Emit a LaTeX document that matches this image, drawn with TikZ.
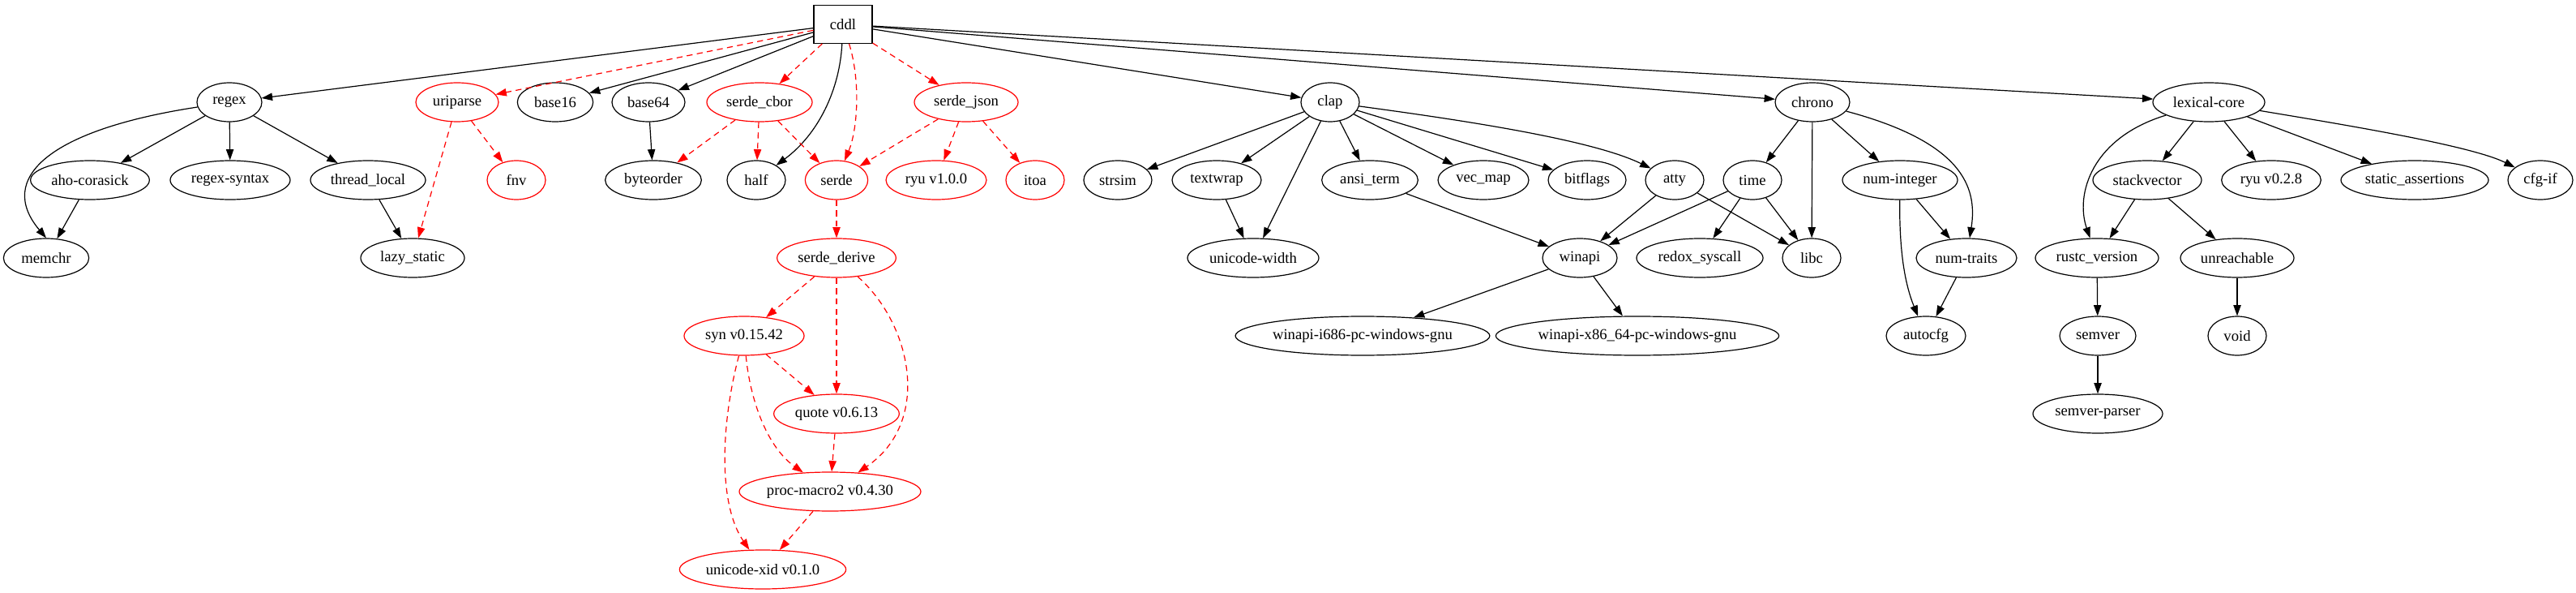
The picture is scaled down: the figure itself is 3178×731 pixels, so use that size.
\documentclass[tikz,border=0pt]{standalone}
\usepackage{fontspec}
\setmainfont{Liberation Serif}
\usepackage{tikz}
\usetikzlibrary{shapes,arrows.meta}
\tikzstyle{crate}    = [ellipse, draw, line width=0.9pt, minimum height=36pt, inner sep=0pt, font=\fontsize{14}{16}\selectfont]
\tikzstyle{optcrate} = [crate, draw=red]
\tikzstyle{root}     = [rectangle, draw, line width=0.9pt, minimum width=54pt, minimum height=35pt, font=\fontsize{14}{16}\selectfont]
\tikzstyle{arrow}    = [line width=0.9pt, -{Triangle[length=10pt,width=7pt]}]
\tikzstyle{optarrow} = [arrow, red, dash pattern=on 5.5pt off 4pt]

\begin{document}
\begin{tikzpicture}[x=0.75pt,y=-0.75pt]
		\useasboundingbox (0,0) rectangle (3178,731);

		% top
		\node[root] (cddl) at (1040,30) {cddl};

		% first row
		\node[crate, minimum width=60pt] (regex) at (283,126) {regex};
		\node[optcrate, minimum width=76.5pt] (uriparse) at (564,126) {uriparse};
		\node[crate, minimum width=70pt] (base16) at (685,126) {base16};
		\node[crate, minimum width=67.5pt] (base64) at (800,126) {base64};
		\node[optcrate, minimum width=97.5pt] (cbor) at (937,126) {serde\_cbor};
		\node[optcrate, minimum width=96pt] (json) at (1192,126) {serde\_json};
		\node[crate, minimum width=54pt] (clap) at (1641,126) {clap};
		\node[crate, minimum width=69pt] (chrono) at (2236,126) {chrono};
		\node[crate, minimum width=103.5pt] (lexical) at (2725,126) {lexical-core};

		% second row
		\node[crate, minimum width=110pt] (aho) at (111,222) {aho-corasick};
		\node[crate, minimum width=111pt] (rsyntax) at (284,222) {regex-syntax};
		\node[crate, minimum width=106.5pt] (tlocal) at (454,222) {thread\_local};
		\node[optcrate, minimum width=54pt] (fnv) at (637,222) {fnv};
		\node[crate, minimum width=89pt] (byteorder) at (806,222) {byteorder};
		\node[crate, minimum width=54pt] (half) at (933,222) {half};
		\node[optcrate, minimum width=58pt] (serde) at (1032,222) {serde};
		\node[optcrate, minimum width=93pt] (ryunew) at (1155,222) {ryu v1.0.0};
		\node[optcrate, minimum width=54pt] (itoa) at (1277,222) {itoa};
		\node[crate, minimum width=63pt] (strsim) at (1379,222) {strsim};
		\node[crate, minimum width=82.5pt] (textwrap) at (1501,222) {textwrap};
		\node[crate, minimum width=89pt] (ansi) at (1690,222) {ansi\_term};
		\node[crate, minimum width=84pt] (vecmap) at (1830,222) {vec\_map};
		\node[crate, minimum width=72pt] (bitflags) at (1958,222) {bitflags};
		\node[crate, minimum width=54pt] (atty) at (2066,222) {atty};
		\node[crate, minimum width=54pt] (time) at (2162,222) {time};
		\node[crate, minimum width=106.5pt] (numint) at (2344,222) {num-integer};
		\node[crate, minimum width=100.5pt] (stackvec) at (2649,222) {stackvector};
		\node[crate, minimum width=92pt] (ryuold) at (2802,222) {ryu v0.2.8};
		\node[crate, minimum width=136.5pt] (sassert) at (2979,222) {static\_assertions};
		\node[crate, minimum width=60pt] (cfgif) at (3134,222) {cfg-if};

		% third row
		\node[crate, minimum width=79pt] (memchr) at (57,318) {memchr};
		\node[crate, minimum width=96pt] (lazy) at (509,318) {lazy\_static};
		\node[optcrate, minimum width=110pt] (derive) at (1032,318) {serde\_derive};
		\node[crate, minimum width=121.5pt] (uwidth) at (1546,318) {unicode-width};
		\node[crate, minimum width=69pt] (winapi) at (1949,318) {winapi};
		\node[crate, minimum width=117pt] (redox) at (2097,318) {redox\_syscall};
		\node[crate, minimum width=54pt] (libc) at (2235,318) {libc};
		\node[crate, minimum width=93pt] (numtraits) at (2426,318) {num-traits};
		\node[crate, minimum width=114pt] (rustcv) at (2587,318) {rustc\_version};
		\node[crate, minimum width=105pt] (unreach) at (2760,318) {unreachable};

		% lower rows
		\node[optcrate, minimum width=111pt] (syn) at (918,414) {syn v0.15.42};
		\node[crate, minimum width=229.5pt] (wini) at (1681,414) {winapi-i686-pc-windows-gnu};
		\node[crate, minimum width=262pt] (winx) at (2020,414) {winapi-x86\_64-pc-windows-gnu};
		\node[crate, minimum width=73.5pt] (autocfg) at (2376,414) {autocfg};
		\node[crate, minimum width=70.5pt] (semver) at (2588,414) {semver};
		\node[crate, minimum width=54pt] (void) at (2760,414) {void};
		\node[optcrate, minimum width=116pt] (quote) at (1032,510) {quote v0.6.13};
		\node[crate, minimum width=120pt] (sparser) at (2588,510) {semver-parser};
		\node[optcrate, minimum width=168pt] (pmacro) at (1024,606) {proc-macro2 v0.4.30};
		\node[optcrate, minimum width=154pt] (uxid) at (941,702) {unicode-xid v0.1.0};

		% cddl
		\draw[arrow] (cddl) -- (regex);
		\draw[optarrow] (cddl) -- (uriparse);
		\draw[arrow] (cddl) -- (base16);
		\draw[arrow] (cddl) -- (base64);
		\draw[optarrow] (cddl) -- (cbor);
		\draw[arrow] (cddl) .. controls (1036,110) and (1010,165) .. (half);
		\draw[optarrow] (cddl) .. controls (1062,100) and (1058,160) .. (serde);
		\draw[optarrow] (cddl) -- (json);
		\draw[arrow] (cddl) -- (clap);
		\draw[arrow] (cddl) -- (chrono);
		\draw[arrow] (cddl) -- (lexical);

		% regex, uriparse, base64
		\draw[arrow] (regex) .. controls (60,160) and (-5,220) .. (memchr.north);
		\draw[arrow] (regex) -- (aho);
		\draw[arrow] (regex) -- (rsyntax);
		\draw[arrow] (regex) -- (tlocal);
		\draw[arrow] (aho) -- (memchr);
		\draw[arrow] (tlocal) -- (lazy);
		\draw[optarrow] (uriparse) -- (fnv);
		\draw[optarrow] (uriparse) -- (lazy);
		\draw[arrow] (base64) -- (byteorder);

		% serde
		\draw[optarrow] (cbor) -- (byteorder);
		\draw[optarrow] (cbor) -- (half);
		\draw[optarrow] (cbor) -- (serde);
		\draw[optarrow] (json) -- (serde);
		\draw[optarrow] (json) -- (ryunew);
		\draw[optarrow] (json) -- (itoa);
		\draw[optarrow] (serde) -- (derive);
		\draw[optarrow] (derive) -- (syn);
		\draw[optarrow] (derive) -- (quote);
		\draw[optarrow] (derive) .. controls (1125,400) and (1150,520) .. (pmacro);
		\draw[optarrow] (syn) -- (quote);
		\draw[optarrow] (syn) .. controls (925,490) and (945,550) .. (pmacro);
		\draw[optarrow] (syn) .. controls (890,520) and (885,620) .. (uxid);
		\draw[optarrow] (quote) -- (pmacro);
		\draw[optarrow] (pmacro) -- (uxid);

		% clap
		\draw[arrow] (clap) -- (strsim);
		\draw[arrow] (clap) -- (textwrap);
		\draw[arrow] (clap) -- (uwidth);
		\draw[arrow] (clap) -- (ansi);
		\draw[arrow] (clap) -- (vecmap);
		\draw[arrow] (clap) -- (bitflags);
		\draw[arrow] (clap) .. controls (1780,145) and (1960,170) .. (atty);
		\draw[arrow] (textwrap) -- (uwidth);
		\draw[arrow] (ansi) -- (winapi);
		\draw[arrow] (atty) -- (winapi);
		\draw[arrow] (atty) -- (libc);
		\draw[arrow] (winapi) -- (wini);
		\draw[arrow] (winapi) -- (winx);

		% chrono
		\draw[arrow] (chrono) -- (time);
		\draw[arrow] (chrono) -- (libc);
		\draw[arrow] (chrono) -- (numint);
		\draw[arrow] (chrono) .. controls (2420,175) and (2440,230) .. (numtraits);
		\draw[arrow] (time) -- (winapi);
		\draw[arrow] (time) -- (redox);
		\draw[arrow] (time) -- (libc);
		\draw[arrow] (numint) -- (numtraits);
		\draw[arrow] (numint) .. controls (2343,310) and (2350,350) .. (autocfg);
		\draw[arrow] (numtraits) -- (autocfg);

		% lexical-core
		\draw[arrow] (lexical) .. controls (2580,170) and (2560,240) .. (rustcv);
		\draw[arrow] (lexical) -- (stackvec);
		\draw[arrow] (lexical) -- (ryuold);
		\draw[arrow] (lexical) -- (sassert);
		\draw[arrow] (lexical) .. controls (2900,155) and (3050,180) .. (cfgif);
		\draw[arrow] (stackvec) -- (rustcv);
		\draw[arrow] (stackvec) -- (unreach);
		\draw[arrow] (rustcv) -- (semver);
		\draw[arrow] (semver) -- (sparser);
		\draw[arrow] (unreach) -- (void);
	\end{tikzpicture}
\end{document}
